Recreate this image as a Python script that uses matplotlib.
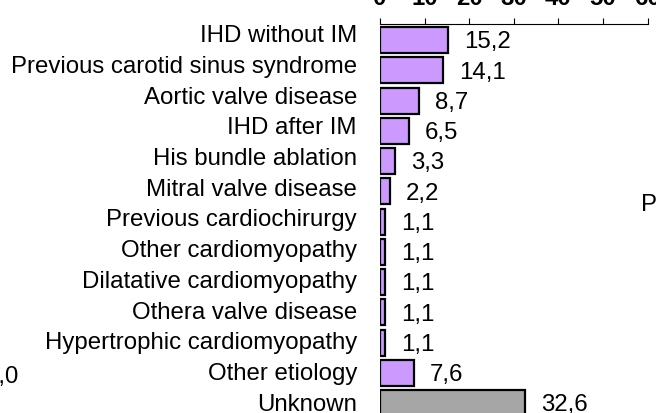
import matplotlib
matplotlib.use("Agg")
import matplotlib.pyplot as plt
from matplotlib.transforms import ScaledTranslation

plt.rcParams['font.family'] = ['Liberation Sans', 'DejaVu Sans']

categories = [
    "IHD without IM",
    "Previous carotid sinus syndrome",
    "Aortic valve disease",
    "IHD after IM",
    "His bundle ablation",
    "Mitral valve disease",
    "Previous cardiochirurgy",
    "Other cardiomyopathy",
    "Dilatative cardiomyopathy",
    "Othera valve disease",
    "Hypertrophic cardiomyopathy",
    "Other etiology",
    "Unknown",
]
values = [15.2, 14.1, 8.7, 6.5, 3.3, 2.2, 1.1, 1.1, 1.1, 1.1, 1.1, 7.6, 32.6]
bar_colors = ["#CC99FF"] * 12 + ["#A6A6A6"]
xticks = [0, 10, 20, 30, 40, 50, 60]

W, H, DPI = 656, 413, 100
fig = plt.figure(figsize=(W / DPI, H / DPI), dpi=DPI)
ax = fig.add_axes([380 / W, 0.0, (647.7 - 380) / W, 1 - 24 / H])

fs = 17.3
ypos = list(range(len(categories)))
ax.barh(ypos, values, height=0.86, color=bar_colors, edgecolor="black", linewidth=1.6)

ax.set_xlim(0, 60)
ax.set_ylim(12.325, -0.535)

ax.xaxis.tick_top()
ax.set_xticks(xticks)
ax.set_xticklabels([str(t) for t in xticks], fontsize=fs, fontweight="bold")
ax.tick_params(axis="x", direction="out", length=4.3, width=0.8, pad=5.8, color="black")

ax.set_yticks(ypos)
ax.set_yticklabels(categories, fontsize=fs)
ax.tick_params(axis="y", length=0, pad=16.6)
for i, lbl in enumerate(ax.get_yticklabels()):
    up_px = 6.2 - 0.42 * i
    lbl.set_transform(lbl.get_transform() +
                      ScaledTranslation(0, up_px / DPI, fig.dpi_scale_trans))

for s in ["left", "right", "bottom"]:
    ax.spines[s].set_visible(False)
ax.spines["top"].set_linewidth(0.8)

for i, v in enumerate(values):
    ax.annotate(f"{v:.1f}".replace(".", ","), xy=(v, i), xytext=(11.5, -1.6),
                textcoords="offset points", va="center", ha="left", fontsize=fs)

# fragments of neighbouring panels
fig.text(18 / W, 1 - 377 / H, "0,0", ha="right", va="center", fontsize=fs)
fig.text(641 / W, 1 - 205 / H, "P", ha="left", va="center", fontsize=fs)

fig.savefig("out.png", dpi=DPI)
